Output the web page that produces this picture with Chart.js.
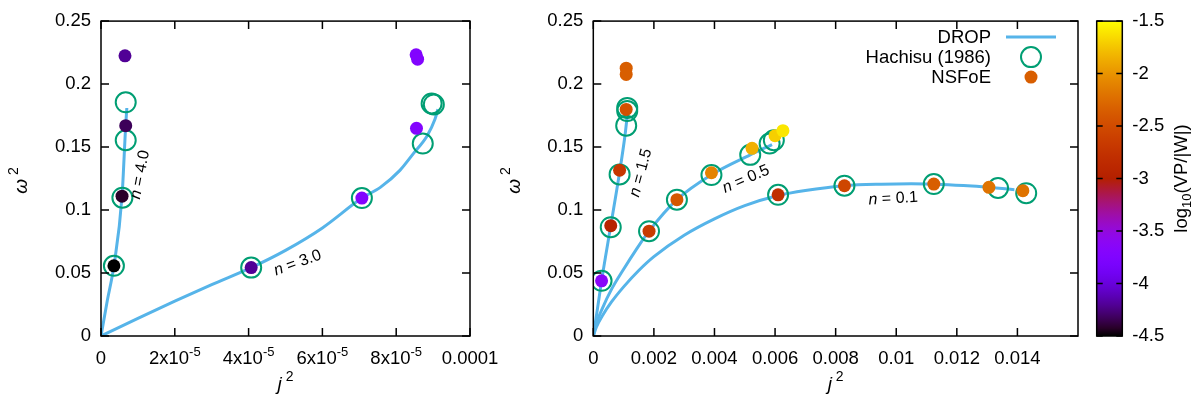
<!DOCTYPE html>
<html>
<head>
<meta charset="utf-8">
<script src="https://cdn.jsdelivr.net/npm/chart.js@4.4.0/dist/chart.umd.min.js"></script>
<style>
  html, body { margin: 0; padding: 0; background: #fff; }
  #wrap { position: relative; width: 1200px; height: 399px; }
  canvas { position: absolute; top: 0; }
</style>
</head>
<body>
<div id="wrap">
  <canvas id="left" width="530" height="399" style="left:0"></canvas>
  <canvas id="right" width="600" height="399" style="left:490px"></canvas>
  <canvas id="cbar" width="110" height="399" style="left:1090px"></canvas>
</div>
<script>
// ---- data: [j^2, omega^2] ----
const dropN40 = [[0, 0], [1.7e-6, 0.028], [3.5e-6, 0.0557], [5.7e-6, 0.111], [6.7e-6, 0.1675], [7.0e-6, 0.181]];
const dropN30 = [[0, 0], [1e-5, 0.0140], [2e-5, 0.0276], [3e-5, 0.0408], [4.07e-5, 0.0543], [5e-5, 0.068],
                 [6e-5, 0.0858], [7.07e-5, 0.1095], [7.57e-5, 0.118], [8.1e-5, 0.1315], [8.47e-5, 0.145],
                 [8.84e-5, 0.159], [9.05e-5, 0.172], [9.13e-5, 0.180]];
const hachisuLeft = [[3.5e-6, 0.0557], [5.8e-6, 0.1098], [6.7e-6, 0.1554], [6.7e-6, 0.1855],
                     [4.07e-5, 0.0543], [7.07e-5, 0.1095], [8.72e-5, 0.1528], [8.96e-5, 0.1846], [9.02e-5, 0.1838]];
const nsfoeLeft = [[3.5e-6, 0.0557], [5.7e-6, 0.111], [6.7e-6, 0.167], [6.5e-6, 0.2224],
                   [4.07e-5, 0.0543], [7.07e-5, 0.1095], [8.54e-5, 0.2232], [8.58e-5, 0.2198], [8.55e-5, 0.1649]];
const nsfoeLeftLogVP = [-4.5, -4.42, -4.33, -4.2, -4.2, -3.72, -3.72, -3.72, -3.7];

const dropN15 = [[0, 0], [0.00014, 0.022], [0.000273, 0.0438], [0.000576, 0.0876], [0.000868, 0.130],
                 [0.00105, 0.160], [0.00113, 0.177]];
const dropN05 = [[0, 0], [0.0001, 0.010], [0.0003, 0.022], [0.0006, 0.037], [0.001, 0.053], [0.0014, 0.068],
                 [0.00184, 0.0832], [0.00276, 0.1082], [0.0039, 0.128], [0.00518, 0.1438], [0.0059, 0.152]];
const dropN01 = [[0, 0], [0.0001, 0.007], [0.0003, 0.016], [0.0006, 0.027], [0.001, 0.039], [0.0015, 0.052],
                 [0.002, 0.063], [0.003, 0.080], [0.004, 0.093], [0.005, 0.1035], [0.0061, 0.1115],
                 [0.007, 0.1155], [0.0083, 0.1193], [0.0095, 0.1205], [0.0105, 0.1208], [0.0115, 0.1203],
                 [0.0125, 0.119], [0.0133, 0.1175], [0.0139, 0.1162]];
const hachisuRight = [[0.000273, 0.0438], [0.000576, 0.0864], [0.000868, 0.1283], [0.001086, 0.167],
                      [0.00112, 0.1786], [0.00112, 0.1811],
                      [0.00184, 0.0832], [0.00276, 0.1082], [0.0039, 0.1278], [0.00518, 0.1438],
                      [0.00582, 0.1528], [0.00596, 0.1554],
                      [0.0061, 0.1121], [0.00829, 0.1193], [0.01124, 0.1206], [0.01336, 0.1175], [0.01429, 0.1134]];
const nsfoeRight = [[0.000273, 0.0438], [0.000576, 0.0876], [0.000868, 0.1316], [0.001086, 0.1799],
                    [0.001086, 0.2126], [0.001086, 0.2077],
                    [0.00184, 0.0832], [0.00276, 0.1082], [0.0039, 0.1296], [0.00524, 0.149],
                    [0.006, 0.159], [0.00626, 0.163],
                    [0.0061, 0.1121], [0.00829, 0.1193], [0.01124, 0.1206], [0.01306, 0.118], [0.01418, 0.1154]];
const nsfoeRightLogVP = [-3.65, -2.95, -2.7, -2.45, -2.35, -2.35,
                         -2.65, -2.4, -2.1, -1.85, -1.7, -1.6,
                         -2.8, -2.55, -2.35, -2.2, -2.2];

// ---- tick labels ----
const yTicks = [0, 0.05, 0.1, 0.15, 0.2, 0.25];
const leftXTicks = [0, 2e-5, 4e-5, 6e-5, 8e-5, 1e-4];
const leftXLabels = ['0', '2x10^-5', '4x10^-5', '6x10^-5', '8x10^-5', '0.0001'];
const rightXTicks = [0, 0.002, 0.004, 0.006, 0.008, 0.01, 0.012, 0.014];
const cbTicks = [-4.5, -4, -3.5, -3, -2.5, -2, -1.5];

// curve labels (data coords)
const leftNotes = [{ x: 1.06e-5, y: 0.128, text: '4.0', rot: -79 }, { x: 5.33e-5, y: 0.058, text: '3.0', rot: -20 }];
const rightNotes = [{ x: 0.00157, y: 0.1296, text: '1.5', rot: -75 }, { x: 0.00504, y: 0.1245, text: '0.5', rot: -23 },
                    { x: 0.0099, y: 0.109, text: '0.1', rot: -3 }];

const FONT = "'Liberation Sans', Arial, sans-serif";
const FS = 18.5;
const LINE = '#56b4e9', GREEN = '#009e73';
Chart.defaults.font.family = FONT;
Chart.defaults.font.size = FS;
Chart.defaults.color = '#000';

// gnuplot default palette (rgbformulae 7,5,15), range -4.5 .. -1.5
function palette(t) {
  t = Math.min(1, Math.max(0, t));
  const r = Math.sqrt(t), g = t * t * t, b = Math.max(0, Math.sin(2 * Math.PI * t));
  return 'rgb(' + Math.round(r * 255) + ',' + Math.round(g * 255) + ',' + Math.round(b * 255) + ')';
}
function vpColor(v) { return palette((v + 4.5) / 3); }

const xy = arr => arr.map(p => ({ x: p[0], y: p[1] }));

// draw text pieces in a row: {t, size, italic, dy}
function drawRich(ctx, parts, x, y, align) {
  let w = 0;
  parts.forEach(p => {
    ctx.font = (p.italic ? 'italic ' : '') + p.size + 'px ' + FONT;
    p.w = ctx.measureText(p.t).width; w += p.w;
  });
  let cx = align === 'center' ? x - w / 2 : (align === 'right' ? x - w : x);
  ctx.textAlign = 'left';
  ctx.textBaseline = 'middle';
  parts.forEach(p => {
    ctx.font = (p.italic ? 'italic ' : '') + p.size + 'px ' + FONT;
    ctx.fillText(p.t, cx, y + (p.dy || 0));
    cx += p.w;
  });
}

// border and inward tick marks like gnuplot
const framePlugin = {
  id: 'frame',
  afterDraw(chart) {
    const { ctx, chartArea: a, scales } = chart;
    ctx.save();
    ctx.strokeStyle = '#000';
    ctx.lineWidth = 1.5;
    ctx.strokeRect(a.left, a.top, a.right - a.left, a.bottom - a.top);
    ctx.beginPath();
    (chart.config.options.xTickList || []).forEach(v => {
      const px = scales.x.getPixelForValue(v);
      ctx.moveTo(px, a.bottom); ctx.lineTo(px, a.bottom - 8);
      ctx.moveTo(px, a.top); ctx.lineTo(px, a.top + 8);
    });
    yTicks.forEach(v => {
      const py = scales.y.getPixelForValue(v);
      ctx.moveTo(a.left, py); ctx.lineTo(a.left + 8, py);
      ctx.moveTo(a.right, py); ctx.lineTo(a.right - 8, py);
    });
    ctx.stroke();
    ctx.fillStyle = '#000';
    // axis titles
    const yMid = (a.top + a.bottom) / 2;
    ctx.save();
    ctx.translate(a.left - 79, yMid + 2);
    ctx.rotate(-Math.PI / 2);
    drawRich(ctx, [{ t: 'ω', size: 19, italic: true }, { t: ' 2', size: 14, dy: -8 }], 0, 0, 'center');
    ctx.restore();
    drawRich(ctx, [{ t: 'j', size: 19, italic: true }, { t: ' 2', size: 14, dy: -8 }],
      (a.left + a.right) / 2, a.bottom + 49, 'center');
    // curve labels
    (chart.config.options.notes || []).forEach(n => {
      ctx.save();
      ctx.translate(scales.x.getPixelForValue(n.x), scales.y.getPixelForValue(n.y));
      ctx.rotate(n.rot * Math.PI / 180);
      drawRich(ctx, [{ t: 'n', size: 16, italic: true }, { t: ' = ' + n.text, size: 16 }], 0, 0, 'center');
      ctx.restore();
    });
    ctx.restore();
  }
};

// x labels with superscript exponents for the left panel
const leftLabelPlugin = {
  id: 'leftLabels',
  afterDraw(chart) {
    const { ctx, chartArea: a, scales } = chart;
    ctx.save();
    ctx.fillStyle = '#000';
    leftXTicks.forEach((v, i) => {
      const s = leftXLabels[i].split('^');
      const parts = [{ t: s[0], size: FS }];
      if (s[1]) parts.push({ t: s[1], size: 13, dy: -7 });
      drawRich(ctx, parts, scales.x.getPixelForValue(v), a.bottom + 23, 'center');
    });
    ctx.restore();
  }
};

const legendPlugin = {
  id: 'keybox',
  afterDraw(chart) {
    const { ctx, chartArea: a } = chart;
    const tx = a.right - 87, sx = a.right - 47;
    const rows = [a.top + 16, a.top + 36, a.top + 56];
    ctx.save();
    ctx.fillStyle = '#000';
    ['DROP', 'Hachisu (1986)', 'NSFoE'].forEach((t, i) => drawRich(ctx, [{ t: t, size: FS }], tx, rows[i] + 1, 'right'));
    ctx.strokeStyle = LINE; ctx.lineWidth = 3;
    ctx.beginPath(); ctx.moveTo(a.right - 72, rows[0]); ctx.lineTo(a.right - 22, rows[0]); ctx.stroke();
    ctx.strokeStyle = GREEN; ctx.lineWidth = 2;
    ctx.beginPath(); ctx.arc(sx, rows[1], 10, 0, 2 * Math.PI); ctx.stroke();
    ctx.fillStyle = vpColor(-2.35);
    ctx.beginPath(); ctx.arc(sx, rows[2], 6.5, 0, 2 * Math.PI); ctx.fill();
    ctx.restore();
  }
};

function curve(data) {
  return { type: 'scatter', data: xy(data), showLine: true, pointRadius: 0, borderColor: LINE,
           borderWidth: 3, cubicInterpolationMode: 'monotone', fill: false };
}
function circles(data) {
  return { type: 'scatter', data: xy(data), pointRadius: 10, pointBorderColor: GREEN,
           pointBorderWidth: 2, pointBackgroundColor: 'rgba(0,0,0,0)', showLine: false };
}
function dots(data, vals) {
  return { type: 'scatter', data: xy(data), pointRadius: 6.5, pointBorderWidth: 0,
           pointBackgroundColor: vals.map(vpColor), showLine: false };
}

function panel(id, datasets, xMax, xTickList, yAxisWidth, padRight, notes, showXLabels, plugins) {
  return new Chart(document.getElementById(id), {
    type: 'scatter',
    data: { datasets: datasets },
    options: {
      responsive: false,
      animation: false,
      events: [],
      xTickList: xTickList,
      notes: notes,
      layout: { padding: { top: 12, right: padRight, left: 0, bottom: 0 } },
      plugins: { legend: { display: false }, tooltip: { enabled: false } },
      scales: {
        x: {
          type: 'linear', min: 0, max: xMax,
          afterBuildTicks: s => { s.ticks = xTickList.map(v => ({ value: v })); },
          afterFit: s => { s.height = 63; },
          grid: { display: false, drawTicks: false },
          border: { display: false },
          ticks: { display: showXLabels, padding: 12, maxRotation: 0, autoSkip: false,
                   callback: v => String(Number(v.toFixed(4))) }
        },
        y: {
          type: 'linear', min: 0, max: 0.25,
          afterBuildTicks: s => { s.ticks = yTicks.map(v => ({ value: v })); },
          afterFit: s => { s.width = yAxisWidth; },
          grid: { display: false, drawTicks: false },
          border: { display: false },
          ticks: { padding: 10, callback: v => String(Number(v.toFixed(2))) }
        }
      }
    },
    plugins: plugins
  });
}

panel('left',
  [dots(nsfoeLeft, nsfoeLeftLogVP), circles(hachisuLeft), curve(dropN40), curve(dropN30)],
  1e-4, leftXTicks, 101, 60, leftNotes, false, [framePlugin, leftLabelPlugin]);

panel('right',
  [dots(nsfoeRight, nsfoeRightLogVP), circles(hachisuRight), curve(dropN15), curve(dropN05), curve(dropN01)],
  0.016, rightXTicks, 103.3, 5, rightNotes, true, [framePlugin, legendPlugin]);

// colour bar
const cbarPlugin = {
  id: 'cbarFrame',
  afterDraw(chart) {
    const { ctx, chartArea: a, scales } = chart;
    ctx.save();
    ctx.strokeStyle = '#000';
    ctx.lineWidth = 1.5;
    ctx.strokeRect(a.left, a.top, a.right - a.left, a.bottom - a.top);
    ctx.beginPath();
    cbTicks.forEach(v => {
      const py = scales.y.getPixelForValue(v);
      ctx.moveTo(a.left, py); ctx.lineTo(a.left + 6, py);
      ctx.moveTo(a.right, py); ctx.lineTo(a.right - 6, py);
    });
    ctx.stroke();
    ctx.fillStyle = '#000';
    ctx.translate(a.right + 60, (a.top + a.bottom) / 2);
    ctx.rotate(-Math.PI / 2);
    drawRich(ctx, [{ t: 'log', size: FS }, { t: '10', size: 13, dy: 5 }, { t: '(VP/|W|)', size: FS }], 0, 0, 'center');
    ctx.restore();
  }
};

new Chart(document.getElementById('cbar'), {
  type: 'bar',
  data: {
    labels: [''],
    datasets: [{
      data: [[cbTicks[0], cbTicks[cbTicks.length - 1]]],
      barPercentage: 1, categoryPercentage: 1, borderWidth: 0,
      backgroundColor: c => {
        const a = c.chart.chartArea;
        if (!a) return '#000';
        const g = c.chart.ctx.createLinearGradient(0, a.bottom, 0, a.top);
        for (let i = 0; i <= 40; i++) g.addColorStop(i / 40, palette(i / 40));
        return g;
      }
    }]
  },
  options: {
    responsive: false,
    animation: false,
    events: [],
    layout: { padding: { top: 12, bottom: 63, left: 6.7, right: 0 } },
    plugins: { legend: { display: false }, tooltip: { enabled: false } },
    scales: {
      x: { display: false },
      y: {
        position: 'right', min: -4.5, max: -1.5,
        afterBuildTicks: s => { s.ticks = cbTicks.map(v => ({ value: v })); },
        afterFit: s => { s.width = 77.7; },
        grid: { display: false, drawTicks: false },
        border: { display: false },
        ticks: { padding: 10, callback: v => String(v) }
      }
    }
  },
  plugins: [cbarPlugin]
});
</script>
</body>
</html>
